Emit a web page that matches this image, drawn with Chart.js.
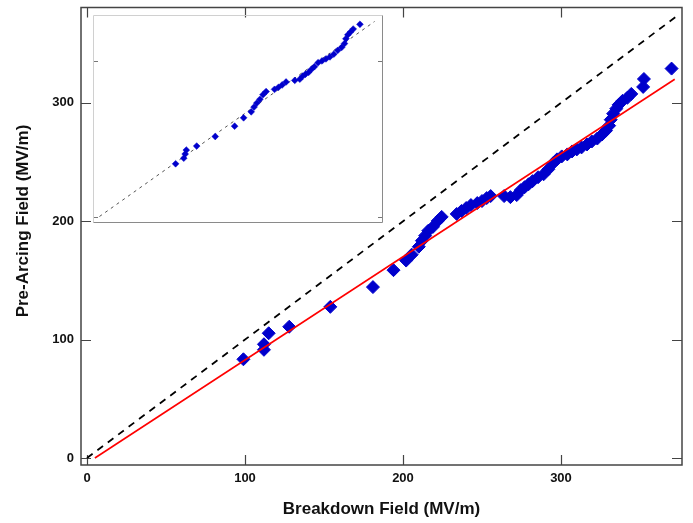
<!DOCTYPE html>
<html>
<head>
<meta charset="utf-8">
<script src="https://cdn.jsdelivr.net/npm/chart.js@4.4.1/dist/chart.umd.min.js"></script>
<style>
  html, body { margin: 0; padding: 0; background: #fff; }
  #wrap { position: relative; width: 693px; height: 523px; }
  #mainChart { position: absolute; left: 0; top: 0; }
  #insetChart { position: absolute; left: 93px; top: 15px; }
</style>
</head>
<body>
<div id="wrap">
  <canvas id="mainChart" width="693" height="523"></canvas>
  <canvas id="insetChart" width="290" height="208"></canvas>
</div>
<script>
// main plot values (MV/m)
const breakdownField = [99, 112, 112, 115, 128, 154, 181, 194, 202, 205.5, 210, 212, 214, 216, 219, 222, 224.5,
  234, 237, 240, 243, 247, 250, 253, 255.5, 264, 268, 272, 274.5, 277, 279.5, 282, 285.5, 289, 292,
  295, 297.5, 300.5, 304, 307, 310, 313, 316.5, 319.5, 323, 326, 328.5, 330.5, 331.5, 333, 335, 336.5,
  339, 342, 344.5, 352, 352.5, 370];
const preArcingField = [83.4, 91.4, 96.1, 105.4, 110.9, 127.7, 144.4, 158.7, 166.8, 171.8, 178.5, 183.6, 187.8,
  192, 195.3, 200.3, 203.7, 206.2, 208.7, 211.2, 213.7, 215.4, 217.1, 219.6, 221.3, 221.3, 220.4, 222.1,
  226.3, 228.8, 231.3, 233.9, 237.2, 239.7, 243.9, 249, 252.3, 254.8, 256.5, 259, 260.7, 262.4, 264.9,
  267.4, 269.9, 273.3, 276.6, 280.8, 285.8, 290.9, 295.1, 298.4, 301.8, 304.3, 307.6, 313.5, 320.2, 329];

// y = x reference and linear fit
const identityX = [0, 374];
const identityY = [0, 374];
const fitX = [5, 372];
const fitY = [0, 320];

const xTicks = [0, 100, 200, 300];
const yTicks = [0, 100, 200, 300];

// inset (no labelled axes, relative units)
const insetX = [27.8, 30.7, 31.2, 31.6, 35.3, 41.9, 48.8, 52.0, 54.7, 55.7, 56.7, 57.8, 58.9, 60.0, 63.0,
  64.4, 65.7, 67.1, 70.2, 72.0, 73.0, 74.0, 75.1, 76.1, 77.2, 78.5, 79.9, 81.3, 82.7, 84.1, 85.5, 86.9,
  87.9, 88.4, 89.1, 90.0, 91.0, 93.4];
const insetY = [27.5, 30.3, 32.4, 34.4, 36.4, 41.2, 46.4, 50.6, 53.6, 56.0, 58.0, 59.9, 62.2, 63.8, 64.9,
  65.9, 67.1, 68.6, 69.4, 70.0, 71.5, 72.5, 73.4, 74.9, 76.3, 78.3, 79.2, 80.2, 81.2, 82.6, 84.5, 86.0,
  87.9, 90.3, 92.3, 93.7, 95.2, 97.6];
const insetRefX = [0.7, 98.6];
const insetRefY = [1, 99];
const insetYTicks = [1, 79];

const pts = (xs, ys) => xs.map((v, i) => ({ x: v, y: ys[i] }));
const FONT = '"Liberation Sans", Arial, sans-serif';
Chart.defaults.font.family = FONT;
Chart.defaults.color = '#000';

// box round the plot with inward ticks on all four sides
const frameTicks = {
  id: 'frameTicks',
  beforeDatasetsDraw(chart) {
    const { ctx, chartArea: a, scales: { x, y } } = chart;
    ctx.save();
    ctx.strokeStyle = '#444';
    ctx.lineWidth = 1.5;
    ctx.strokeRect(a.left, a.top, a.right - a.left, a.bottom - a.top);
    ctx.lineWidth = 1.2;
    ctx.beginPath();
    xTicks.forEach(v => {
      const px = Math.round(x.getPixelForValue(v)) + 0.5;
      ctx.moveTo(px, a.bottom); ctx.lineTo(px, a.bottom - 10);
      ctx.moveTo(px, a.top); ctx.lineTo(px, a.top + 10);
    });
    yTicks.forEach(v => {
      const py = Math.round(y.getPixelForValue(v)) + 0.5;
      ctx.moveTo(a.left, py); ctx.lineTo(a.left + 10, py);
      ctx.moveTo(a.right, py); ctx.lineTo(a.right - 10, py);
    });
    ctx.stroke();

    // y axis title
    ctx.translate(23, 221);
    ctx.rotate(-Math.PI / 2);
    ctx.font = 'bold 17px ' + FONT;
    ctx.fillStyle = '#111';
    ctx.textAlign = 'center';
    ctx.textBaseline = 'middle';
    ctx.fillText('Pre-Arcing Field (MV/m)', 0, 0);
    ctx.restore();
  }
};

new Chart(document.getElementById('mainChart'), {
  type: 'scatter',
  data: {
    datasets: [
      {
        label: 'Fit',
        data: pts(fitX, fitY),
        showLine: true,
        borderColor: '#ff0000',
        borderWidth: 1.6,
        pointRadius: 0,
        order: 0
      },
      {
        label: 'y = x',
        data: pts(identityX, identityY),
        showLine: true,
        borderColor: '#000',
        borderWidth: 1.8,
        borderDash: [7, 6],
        pointRadius: 0,
        order: 1
      },
      {
        label: 'Data',
        data: pts(breakdownField, preArcingField),
        pointStyle: 'rectRot',
        pointRadius: 6.5,
        backgroundColor: '#0000cc',
        borderColor: '#0000cc',
        borderWidth: 1,
        order: 2
      }
    ]
  },
  options: {
    responsive: false,
    animation: false,
    devicePixelRatio: 1,
    layout: { padding: { top: 5, right: 11, left: 0, bottom: 0 } },
    plugins: { legend: { display: false }, tooltip: { enabled: false } },
    scales: {
      x: {
        type: 'linear',
        min: -3.8,
        max: 376.6,
        afterBuildTicks: s => { s.ticks = xTicks.map(v => ({ value: v })); },
        afterFit: s => { s.height = 58; s.paddingLeft = 0; s.paddingRight = 0; },
        grid: { display: false, drawTicks: false },
        border: { display: false },
        ticks: { padding: 6, font: { size: 13, weight: 'bold' }, color: '#111' },
        title: {
          display: true,
          text: 'Breakdown Field (MV/m)',
          font: { size: 17, weight: 'bold' },
          color: '#111',
          padding: { top: 0, bottom: 3 }
        }
      },
      y: {
        type: 'linear',
        min: -5.9,
        max: 380.6,
        afterBuildTicks: s => { s.ticks = yTicks.map(v => ({ value: v })); },
        afterFit: s => { s.width = 81; s.paddingTop = 0; s.paddingBottom = 0; },
        grid: { display: false, drawTicks: false },
        border: { display: false },
        ticks: { padding: 7, font: { size: 13, weight: 'bold' }, color: '#111' }
      }
    }
  },
  plugins: [frameTicks]
});

// inset frame with its few small ticks
const insetFrame = {
  id: 'insetFrame',
  beforeDatasetsDraw(chart) {
    const { ctx, width, height, scales: { y } } = chart;
    ctx.save();
    ctx.lineWidth = 1;
    ctx.strokeStyle = '#d0d0d0';
    ctx.beginPath();
    ctx.moveTo(0.5, height - 0.5); ctx.lineTo(0.5, 0.5); ctx.lineTo(width - 0.5, 0.5);
    ctx.stroke();
    ctx.strokeStyle = '#8a8a8a';
    ctx.beginPath();
    ctx.moveTo(width - 0.5, 0.5); ctx.lineTo(width - 0.5, height - 0.5); ctx.lineTo(0.5, height - 0.5);
    ctx.stroke();
    ctx.strokeStyle = '#777';
    ctx.beginPath();
    insetYTicks.forEach(v => {
      const py = Math.round(y.getPixelForValue(v)) + 0.5;
      ctx.moveTo(1, py); ctx.lineTo(5, py);
      ctx.moveTo(width - 1, py); ctx.lineTo(width - 5, py);
    });
    ctx.stroke();
    ctx.restore();
  }
};

new Chart(document.getElementById('insetChart'), {
  type: 'scatter',
  data: {
    datasets: [
      {
        data: pts(insetX, insetY),
        pointStyle: 'rectRot',
        pointRadius: 3.4,
        backgroundColor: '#0000cc',
        borderColor: '#0000cc',
        borderWidth: 0.5,
        order: 0
      },
      {
        data: pts(insetRefX, insetRefY),
        showLine: true,
        borderColor: '#555',
        borderWidth: 1,
        borderDash: [3, 4],
        pointRadius: 0,
        order: 1
      }
    ]
  },
  options: {
    responsive: false,
    animation: false,
    devicePixelRatio: 1,
    layout: { padding: 0 },
    plugins: { legend: { display: false }, tooltip: { enabled: false } },
    scales: {
      x: { type: 'linear', min: 0, max: 100, display: false },
      y: { type: 'linear', min: 0, max: 100, display: false }
    }
  },
  plugins: [insetFrame]
});
</script>
</body>
</html>
